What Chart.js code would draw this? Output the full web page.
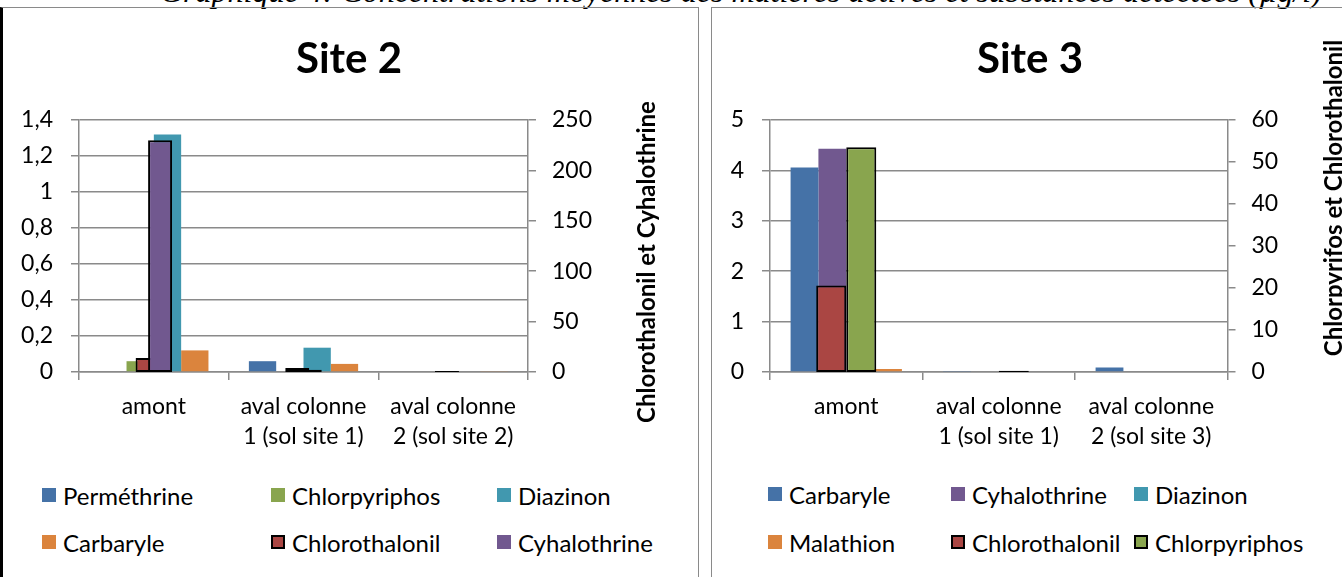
<!DOCTYPE html>
<html>
<head>
<meta charset="utf-8">
<title>Site 2 / Site 3</title>
<script src="https://cdn.jsdelivr.net/npm/chart.js@4.4.1/dist/chart.umd.min.js"></script>
<style>
  html, body { margin: 0; padding: 0; background: #fff; }
  body { position: relative; width: 1342px; height: 577px; overflow: hidden; font-family: Lato, "Open Sans", sans-serif; }
  .caption { position: absolute; left: 160px; top: -24px; font: italic 32px/30px "Liberation Serif", serif; white-space: nowrap; color: #000; }
  .panel { position: absolute; top: 7px; height: 620px; box-sizing: border-box; }
  #panel2 { left: 0; width: 699px; border-top: 1.5px solid #8a8a8a; border-right: 1.5px solid #8a8a8a; border-left: 3px solid #000; }
  #panel3 { left: 711px; width: 660px; border-top: 1.5px solid #8a8a8a; border-left: 1.5px solid #8a8a8a; }
  canvas { position: absolute; top: 0; pointer-events: none; }
  .left { left: 0; }
  .right { left: 711px; }
  .legend-item { position: absolute; height: 28px; display: flex; align-items: center; white-space: nowrap; font-size: 24px; color: #000; }
  .legend-box { width: 14px; height: 14px; margin-right: 7px; box-sizing: border-box; }
</style>
</head>
<body>
<div class="caption">Graphique 4: Concentrations moyennes des matières actives et substances détectées (µg/l)</div>
<div class="panel" id="panel2"></div>
<div class="panel" id="panel3"></div>
<canvas id="site2" class="left" width="698" height="452"></canvas>
<canvas id="site2-secondary" class="left" width="698" height="452"></canvas>
<canvas id="site3" class="right" width="638" height="452"></canvas>
<canvas id="site3-secondary" class="right" width="638" height="452"></canvas>
<div id="legend2"></div>
<div id="legend3"></div>

<script>
// ---- Site 2: mean concentrations (µg/l) ----
const site2Categories = ['amont', ['aval colonne', '1 (sol site 1)'], ['aval colonne', '2 (sol site 2)']];
const site2Permethrine    = [0,    0.06,  0];
const site2Chlorpyriphos  = [0.06, 0,     0];
const site2Diazinon       = [1.32, 0.135, 0];
const site2Carbaryle      = [0.12, 0.045, 0.005];
// read on the right-hand axis
const site2Chlorothalonil = [14,  4,   1];
const site2Cyhalothrine   = [230, 2.3, 0];

// ---- Site 3: mean concentrations (µg/l) ----
const site3Categories = ['amont', ['aval colonne', '1 (sol site 1)'], ['aval colonne', '2 (sol site 3)']];
const site3Carbaryle      = [4.06, 0.02, 0.09];
const site3Cyhalothrine   = [4.43, 0,    0];
const site3Diazinon       = [0,    0,    0];
const site3Malathion      = [0.06, 0,    0];
// read on the right-hand axis
const site3Chlorothalonil = [20.6, 0,    0];
const site3Chlorpyriphos  = [53.5, 0.3,  0];

// axis ranges [min, max, step]
const site2LeftRange  = [0, 1.4, 0.2];
const site2RightRange = [0, 250, 50];
const site3LeftRange  = [0, 5, 1];
const site3RightRange = [0, 60, 10];

const COLORS = {
  blue: '#4572A7', red: '#AA4643', green: '#89A54E',
  purple: '#71588F', teal: '#4198AF', orange: '#DB843D'
};
const AXIS_GRAY = '#8a8a8a';
const FONT_FAMILY = 'Lato, "Open Sans", sans-serif';

Chart.defaults.font.family = FONT_FAMILY;
Chart.defaults.color = '#000';

const frNumber = v => String(Math.round(v * 1000) / 1000).replace('.', ',');

// Later series paint over earlier ones.
const paintInSeriesOrder = {
  id: 'paintInSeriesOrder',
  beforeDatasetsDraw(chart) {
    for (const meta of chart.getSortedVisibleDatasetMetas()) chart._drawDataset(meta);
    return false;
  }
};

// Right-hand axis title, reading bottom to top.
const sideTitle = {
  id: 'sideTitle',
  afterDraw(chart, args, opts) {
    const { ctx, chartArea } = chart;
    ctx.save();
    ctx.translate(chartArea.right + opts.offset, opts.centerY);
    ctx.rotate(-Math.PI / 2);
    ctx.font = 'bold 24px ' + FONT_FAMILY;
    ctx.fillStyle = '#000';
    ctx.textAlign = 'center';
    ctx.textBaseline = 'middle';
    ctx.fillText(opts.text, 0, 0);
    ctx.restore();
  }
};

function primary(label, data, color) {
  return { label, data, backgroundColor: color, borderWidth: 0,
           categoryPercentage: 0.73, barPercentage: 1 };
}
function secondary(label, data, color, catPct, barPct, legendOutline) {
  return { label, data, backgroundColor: color, borderColor: '#000', borderWidth: 2,
           borderSkipped: false, yAxisID: 'y2',
           categoryPercentage: catPct, barPercentage: barPct, legendOutline };
}

// Axes, grid, title and the left-axis series.
function buildBase(canvasId, title, labels, datasets, leftRange, rightRange, geo) {
  const grid = { color: AXIS_GRAY, lineWidth: 1.5, tickLength: 8 };
  const border = { color: AXIS_GRAY, width: 1.5 };
  return new Chart(document.getElementById(canvasId), {
    type: 'bar',
    data: { labels, datasets },
    plugins: [sideTitle],
    options: {
      responsive: false,
      animation: false,
      layout: { padding: 0 },
      plugins: {
        legend: { display: false },
        tooltip: { enabled: false },
        title: { display: true, text: title, color: '#000',
                 font: { size: 42, weight: 'bold' }, padding: { top: 34, bottom: 35.6 } },
        sideTitle: geo.sideTitle
      },
      scales: {
        x: {
          offset: true,
          grid: { ...grid, drawOnChartArea: false, offset: true },
          border,
          ticks: { padding: 12, maxRotation: 0, autoSkip: false, font: { size: 23, lineHeight: 1.3 } },
          afterFit(s) { s.height = 80; }
        },
        y: {
          position: 'left', min: leftRange[0], max: leftRange[1],
          grid, border,
          ticks: { stepSize: leftRange[2], padding: 18, font: { size: 23 }, callback: frNumber },
          afterFit(s) { s.width = geo.leftWidth; }
        },
        y2: {
          position: 'right', min: rightRange[0], max: rightRange[1],
          grid: { ...grid, drawOnChartArea: false }, border,
          ticks: { stepSize: rightRange[2], padding: 16, font: { size: 23 }, callback: frNumber },
          afterFit(s) { s.width = geo.rightWidth; }
        }
      }
    }
  });
}

// Right-axis series, laid over the same plot area as their own bar group.
function buildSecondary(canvasId, base, labels, datasets, rightRange) {
  const area = base.chartArea;
  return new Chart(document.getElementById(canvasId), {
    type: 'bar',
    data: { labels, datasets },
    plugins: [paintInSeriesOrder],
    options: {
      responsive: false,
      animation: false,
      layout: { padding: { top: area.top, left: area.left,
                           right: base.width - area.right, bottom: base.height - area.bottom } },
      plugins: { legend: { display: false }, tooltip: { enabled: false }, title: { display: false } },
      scales: {
        x: { display: false, offset: true },
        y2: { display: false, position: 'right', min: rightRange[0], max: rightRange[1] }
      }
    }
  });
}

function buildLegend(containerId, datasets, cols, rows) {
  const host = document.getElementById(containerId);
  datasets.forEach((ds, i) => {
    const item = document.createElement('div');
    item.className = 'legend-item';
    item.style.left = cols[i % 3] + 'px';
    item.style.top = (rows[Math.floor(i / 3)] - 14) + 'px';
    const box = document.createElement('span');
    box.className = 'legend-box';
    box.style.background = ds.backgroundColor;
    if (ds.legendOutline) box.style.border = '2px solid #000';
    const txt = document.createElement('span');
    txt.textContent = ds.label;
    item.appendChild(box);
    item.appendChild(txt);
    host.appendChild(item);
  });
}

function draw() {
  const site2Left = [
    primary('Perméthrine', site2Permethrine, COLORS.blue),
    primary('Chlorpyriphos', site2Chlorpyriphos, COLORS.green),
    primary('Diazinon', site2Diazinon, COLORS.teal),
    primary('Carbaryle', site2Carbaryle, COLORS.orange)
  ];
  const site2Right = [
    secondary('Chlorothalonil', site2Chlorothalonil, COLORS.red, 0.167, 1.92, true),
    secondary('Cyhalothrine', site2Cyhalothrine, COLORS.purple, 0.167, 1.92, false)
  ];
  const site3Left = [
    primary('Carbaryle', site3Carbaryle, COLORS.blue),
    primary('Cyhalothrine', site3Cyhalothrine, COLORS.purple),
    primary('Diazinon', site3Diazinon, COLORS.teal),
    primary('Malathion', site3Malathion, COLORS.orange)
  ];
  const site3Right = [
    secondary('Chlorothalonil', site3Chlorothalonil, COLORS.red, 0.394, 1, true),
    secondary('Chlorpyriphos', site3Chlorpyriphos, COLORS.green, 0.394, 1, true)
  ];

  const base2 = buildBase('site2', 'Site 2', site2Categories, site2Left, site2LeftRange, site2RightRange, {
    leftWidth: 79, rightWidth: 170,
    sideTitle: { text: 'Chlorothalonil et Cyhalothrine', offset: 119, centerY: 262 }
  });
  buildSecondary('site2-secondary', base2, site2Categories, site2Right, site2RightRange);

  const base3 = buildBase('site3', 'Site 3', site3Categories, site3Left, site3LeftRange, site3RightRange, {
    leftWidth: 59, rightWidth: 121.5,
    sideTitle: { text: 'Chlorpyrifos et Chlorothalonil', offset: 106.5, centerY: 198 }
  });
  buildSecondary('site3-secondary', base3, site3Categories, site3Right, site3RightRange);

  buildLegend('legend2', site2Left.concat(site2Right), [42, 271, 497], [495, 542]);
  buildLegend('legend3', site3Left.concat(site3Right), [768, 951, 1134], [494, 542]);
}

if (document.fonts && document.fonts.load) {
  Promise.all([
    document.fonts.load('23px Lato'),
    document.fonts.load('bold 42px Lato'),
    document.fonts.load('bold 24px Lato')
  ]).then(draw, draw);
} else {
  draw();
}
</script>
</body>
</html>
